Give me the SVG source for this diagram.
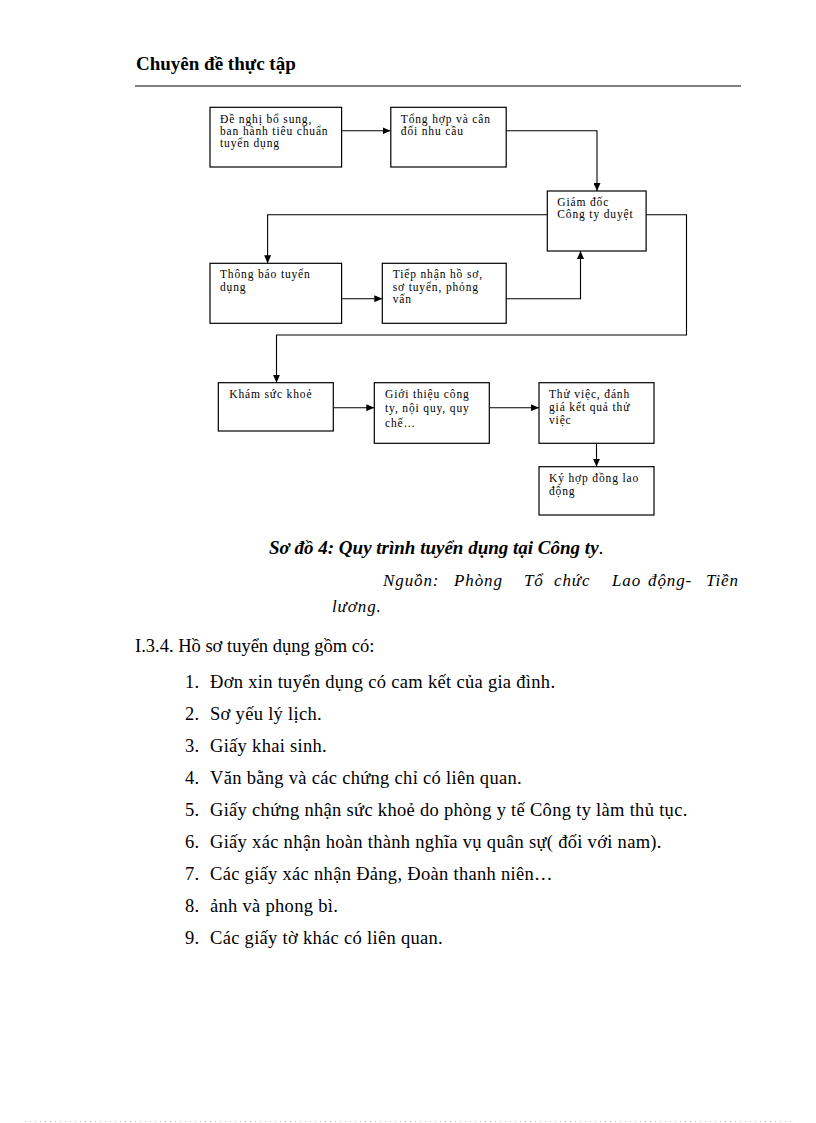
<svg xmlns="http://www.w3.org/2000/svg" width="816" height="1123" viewBox="0 0 816 1123">
<defs>
<style>
.bg{fill:#fff}
.box{fill:#fff;stroke:#000;stroke-width:1.2}
.con{fill:none;stroke:#000;stroke-width:1.1}
.bt{font-family:"Liberation Serif","Times New Roman",serif;font-size:11.5px;letter-spacing:0.85px;fill:#000}
.hd{font-family:"Liberation Serif","Times New Roman",serif;font-size:19px;font-weight:bold;fill:#000}
.cap{font-family:"Liberation Serif","Times New Roman",serif;font-size:19px;font-weight:bold;font-style:italic;fill:#000}
.src{font-family:"Liberation Serif","Times New Roman",serif;font-size:17px;font-style:italic;letter-spacing:0.9px;fill:#000}
.li{font-family:"Liberation Serif","Times New Roman",serif;font-size:18.5px;letter-spacing:0.3px;fill:#000}
.sec{font-family:"Liberation Serif","Times New Roman",serif;font-size:18.5px;fill:#000}
</style>
<marker id="ah" viewBox="0 0 8 7" refX="8" refY="3.5" markerWidth="8" markerHeight="7" markerUnits="userSpaceOnUse" orient="auto">
<path d="M0,0 L8,3.5 L0,7 z" fill="#000"/>
</marker>
</defs>
<rect class="bg" x="0" y="0" width="816" height="1123"/>

<g id="header">
<text class="hd" x="136" y="70">Chuyên đề thực tập</text>
<line x1="135" y1="86" x2="741" y2="86" stroke="#000" stroke-width="1"/>
</g>

<g id="connectors">
<path class="con" d="M341.6,130.7 H390.5" marker-end="url(#ah)"/>
<path class="con" d="M506.2,130.7 H597 V191" marker-end="url(#ah)"/>
<path class="con" d="M547.3,214.7 H267.6 V263.3" marker-end="url(#ah)"/>
<path class="con" d="M646.1,214.7 H686.5 V335 H276.5 V382.7" marker-end="url(#ah)"/>
<path class="con" d="M341.6,298.7 H382.3" marker-end="url(#ah)"/>
<path class="con" d="M506.2,298.7 H580.5 V251" marker-end="url(#ah)"/>
<path class="con" d="M333.3,407.7 H374.3" marker-end="url(#ah)"/>
<path class="con" d="M489.3,407.7 H539" marker-end="url(#ah)"/>
<path class="con" d="M596.5,443.3 V466.7" marker-end="url(#ah)"/>
</g>

<g id="n1">
<rect class="box" x="210" y="107.3" width="131.6" height="59.7"/>
<text class="bt" x="220" y="122.7">Đề nghị bổ sung,</text>
<text class="bt" x="220" y="134.7">ban hành tiêu chuẩn</text>
<text class="bt" x="220" y="147.3">tuyển dụng</text>
</g>
<g id="n2">
<rect class="box" x="390.8" y="107.3" width="115.4" height="59.7"/>
<text class="bt" x="400.8" y="122.7">Tổng hợp và cân</text>
<text class="bt" x="400.8" y="134.7">đối nhu cầu</text>
</g>
<g id="n3">
<rect class="box" x="547.3" y="191" width="98.8" height="60"/>
<text class="bt" x="557.3" y="206">Giám đốc</text>
<text class="bt" x="557.3" y="218.3">Công ty duyệt</text>
</g>
<g id="n4">
<rect class="box" x="210" y="263.3" width="131.6" height="60"/>
<text class="bt" x="220" y="278.3">Thông báo tuyển</text>
<text class="bt" x="220" y="290.7">dụng</text>
</g>
<g id="n5">
<rect class="box" x="382.3" y="263.3" width="123.9" height="60"/>
<text class="bt" x="392.7" y="278.3">Tiếp nhận hồ sơ,</text>
<text class="bt" x="392.7" y="290.7">sơ tuyển, phỏng</text>
<text class="bt" x="392.7" y="303">vấn</text>
</g>
<g id="n6">
<rect class="box" x="218.3" y="382.7" width="115" height="48.3"/>
<text class="bt" x="229.3" y="398.3">Khám sức khoẻ</text>
</g>
<g id="n7">
<rect class="box" x="374.3" y="382.7" width="115" height="60.6"/>
<text class="bt" x="385" y="398.3">Giới thiệu công</text>
<text class="bt" x="385" y="411.7">ty, nội quy, quy</text>
<text class="bt" x="385" y="426.7">chế…</text>
</g>
<g id="n8">
<rect class="box" x="539" y="382.7" width="115" height="60.6"/>
<text class="bt" x="549" y="398.3">Thử việc, đánh</text>
<text class="bt" x="549" y="411.3">giá kết quả thử</text>
<text class="bt" x="549" y="423.5">việc</text>
</g>
<g id="n9">
<rect class="box" x="539" y="466.7" width="115" height="48.3"/>
<text class="bt" x="549" y="482.3">Ký hợp đồng lao</text>
<text class="bt" x="549" y="495">động</text>
</g>

<g id="caption">
<text class="cap" x="269" y="554">Sơ đồ 4: Quy trình tuyển dụng tại Công ty<tspan font-weight="normal" font-style="normal">.</tspan></text>
<text class="src" x="383" y="585.5">Nguồn:</text>
<text class="src" x="454" y="585.5">Phòng</text>
<text class="src" x="524" y="585.5">Tổ</text>
<text class="src" x="554" y="585.5">chức</text>
<text class="src" x="612" y="585.5">Lao</text>
<text class="src" x="648" y="585.5">động-</text>
<text class="src" x="706" y="585.5">Tiền</text>
<text class="src" x="332" y="612">lương.</text>
<text class="sec" x="135" y="651.5">I.3.4. Hồ sơ tuyển dụng gồm có:</text>
</g>

<g id="list">
<text class="li" x="185" y="687.5">1.</text><text class="li" x="210" y="687.5">Đơn xin tuyển dụng có cam kết của gia đình.</text>
<text class="li" x="185" y="719.5">2.</text><text class="li" x="210" y="719.5">Sơ yếu lý lịch.</text>
<text class="li" x="185" y="751.7">3.</text><text class="li" x="210" y="751.7">Giấy khai sinh.</text>
<text class="li" x="185" y="783.7">4.</text><text class="li" x="210" y="783.7">Văn bằng và các chứng chỉ có liên quan.</text>
<text class="li" x="185" y="816">5.</text><text class="li" x="210" y="816">Giấy chứng nhận sức khoẻ do phòng y tế Công ty làm thủ tục.</text>
<text class="li" x="185" y="848">6.</text><text class="li" x="210" y="848">Giấy xác nhận hoàn thành nghĩa vụ quân sự( đối với nam).</text>
<text class="li" x="185" y="880">7.</text><text class="li" x="210" y="880">Các giấy xác nhận Đảng, Đoàn thanh niên…</text>
<text class="li" x="185" y="912">8.</text><text class="li" x="210" y="912">ảnh và phong bì.</text>
<text class="li" x="185" y="944.3">9.</text><text class="li" x="210" y="944.3">Các giấy tờ khác có liên quan.</text>
</g>

<line x1="25" y1="1121.5" x2="791" y2="1121.5" stroke="#bbb" stroke-width="1" stroke-dasharray="1,4"/>
</svg>
